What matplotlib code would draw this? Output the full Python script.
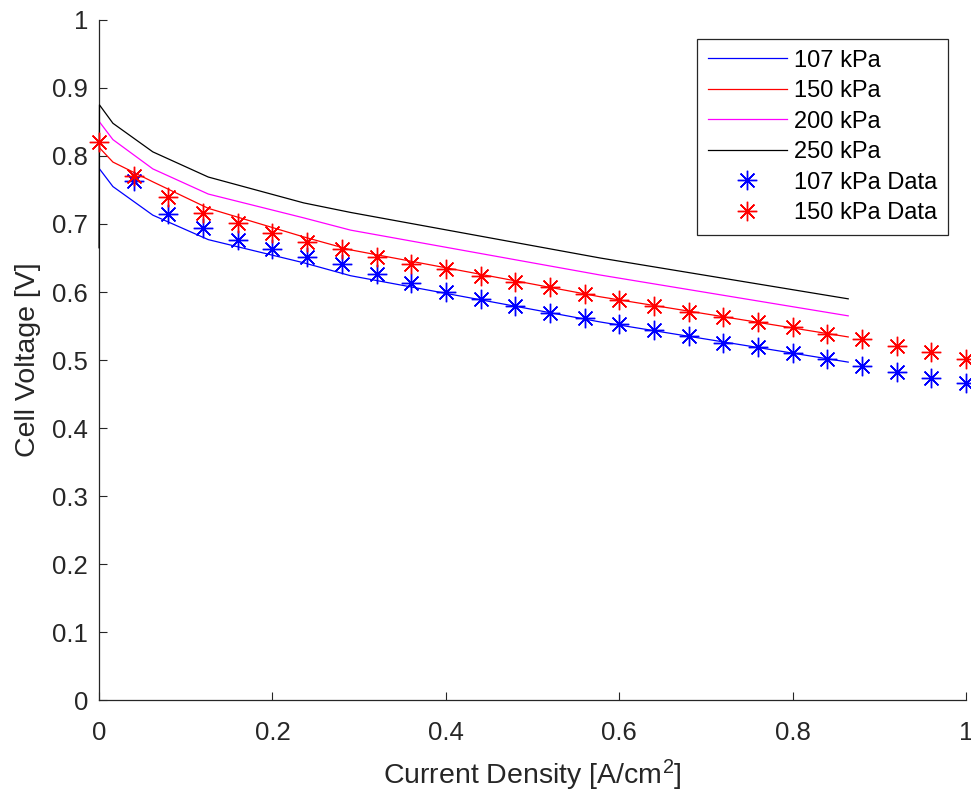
import matplotlib
matplotlib.use("Agg")
import matplotlib.pyplot as plt
from matplotlib.ticker import FuncFormatter

plt.rcParams["font.family"] = ["Liberation Sans", "DejaVu Sans"]
plt.rcParams["mathtext.fontset"] = "custom"
plt.rcParams["mathtext.rm"] = "Liberation Sans"
plt.rcParams["mathtext.it"] = "Liberation Sans"

# model curves (current density vs. cell voltage)
model_i = [0, 0.0005, 0.016, 0.062, 0.126, 0.236, 0.29, 0.578, 0.864]
v_107 = [0.665, 0.781, 0.755, 0.713, 0.677, 0.643, 0.624, 0.556, 0.497]
v_150 = [0.665, 0.812, 0.791, 0.762, 0.723, 0.681, 0.662, 0.593, 0.534]
v_200 = [0.665, 0.850, 0.824, 0.781, 0.744, 0.709, 0.691, 0.625, 0.565]
v_250 = [0.665, 0.875, 0.848, 0.806, 0.769, 0.731, 0.717, 0.650, 0.590]

# measured data
data_i_107 = [0.04, 0.08, 0.12, 0.16, 0.20, 0.24, 0.28, 0.32, 0.36, 0.40, 0.44,
              0.48, 0.52, 0.56, 0.60, 0.64, 0.68, 0.72, 0.76, 0.80, 0.84, 0.88,
              0.92, 0.96, 1.00]
data_v_107 = [0.763, 0.715, 0.694, 0.676, 0.663, 0.652, 0.641, 0.626, 0.614,
              0.600, 0.590, 0.580, 0.569, 0.562, 0.553, 0.544, 0.535, 0.525,
              0.519, 0.510, 0.501, 0.491, 0.482, 0.473, 0.467]
data_i_150 = [0.00] + data_i_107
data_v_150 = [0.821, 0.771, 0.740, 0.716, 0.701, 0.687, 0.673, 0.663, 0.651,
              0.641, 0.634, 0.624, 0.615, 0.607, 0.597, 0.588, 0.579, 0.571,
              0.563, 0.556, 0.548, 0.538, 0.531, 0.521, 0.512, 0.501]

fig = plt.figure(figsize=(9.71, 7.94), dpi=100)
ax = fig.add_axes([0.102, 0.118, 0.893, 0.857])

lw = 0.9
# the vertical start segment at i=0 only shows for the last (black) curve
ax.plot(model_i[1:], v_107[1:], color="#0000ff", lw=lw, label="107 kPa", zorder=3)
ax.plot(model_i[1:], v_150[1:], color="#ff0000", lw=lw, label="150 kPa", zorder=3)
ax.plot(model_i[1:], v_200[1:], color="#ff00ff", lw=lw, label="200 kPa", zorder=3)
ax.plot(model_i, v_250, color="#000000", lw=lw, label="250 kPa", zorder=3, clip_on=False)

star = (8, 2, 0)
ax.plot(data_i_107, data_v_107, ls="none", marker=star, ms=14, mew=1.0,
        color="#0000ff", label="107 kPa Data", clip_on=False, zorder=4)
ax.plot(data_i_150, data_v_150, ls="none", marker=star, ms=14, mew=1.0,
        color="#ff0000", label="150 kPa Data", clip_on=False, zorder=4)

ax.set_xlim(0, 1)
ax.set_ylim(0, 1)
ax.set_xticks([0, 0.2, 0.4, 0.6, 0.8, 1.0])
ax.set_yticks([i / 10 for i in range(11)])
fmt = FuncFormatter(lambda v, p: f"{v:g}")
ax.xaxis.set_major_formatter(fmt)
ax.yaxis.set_major_formatter(fmt)

dark = "#262626"
for side in ["top", "right"]:
    ax.spines[side].set_visible(False)
for side in ["left", "bottom"]:
    ax.spines[side].set_color(dark)
    ax.spines[side].set_linewidth(0.9)
ax.tick_params(direction="in", length=6, width=0.8, colors=dark,
               labelsize=18.5, pad=8)
ax.tick_params(axis="x", pad=15)

ax.set_xlabel("Current Density [A/cm$^2$]", fontsize=20.5, color=dark, labelpad=9)
ax.set_ylabel("Cell Voltage [V]", fontsize=20.5, color=dark, labelpad=8)

leg = ax.legend(loc="upper right", bbox_to_anchor=(0.979, 0.972),
                borderaxespad=0, fontsize=17, fancybox=False, framealpha=1,
                edgecolor=dark, handlelength=3.35, labelspacing=0.36,
                handletextpad=0.3, borderpad=0.45)
leg.get_frame().set_linewidth(0.9)
for t in leg.get_texts():
    t.set_color("#000000")

fig.savefig("out.png", dpi=100)
